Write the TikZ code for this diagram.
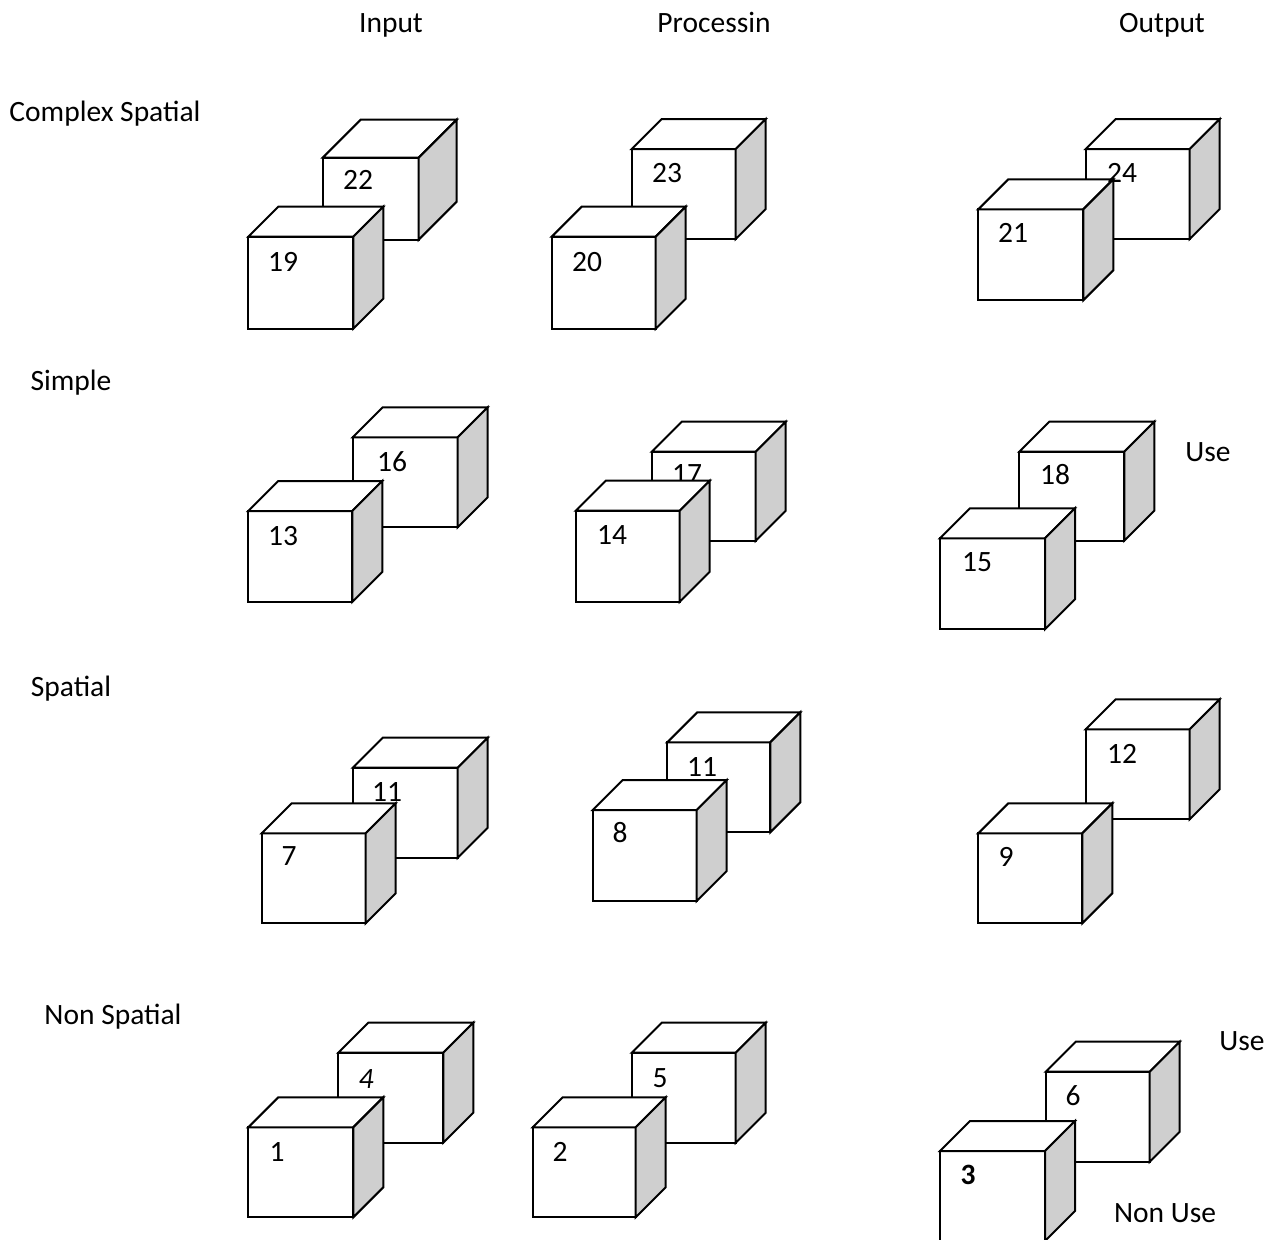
\documentclass[tikz,border=0pt]{standalone}
\usepackage{fontspec}
\setmainfont{Carlito}
\begin{document}
\begin{tikzpicture}[x=1pt,y=-1pt,
  cubefront/.style={draw=black, fill=white, line width=2pt, outer sep=0pt, inner sep=0pt, rectangle, line join=miter},
  cubetop/.style={draw=black, fill=white, line width=2pt, line join=miter},
  cubeside/.style={draw=black, fill=black!19, line width=2pt, line join=miter},
  lbl/.style={font=\fontsize{29.5}{35}\selectfont, inner sep=0pt, anchor=base},
  num/.style={font=\fontsize{29.5}{35}\selectfont, inner sep=0pt, anchor=center}]
\newcommand{\cubeshape}[6]{%
  \node[cubefront, minimum width=#4pt, minimum height=#5pt, anchor=north west] (#1) at (#2,#3) {};
  \draw[cubetop] (#1.north west) -- ++(#6,-#6) -- ++(#4,0) -- (#1.north east) -- cycle;
  \draw[cubeside] (#1.north east) -- ++(#6,-#6) -- ++(0,#5) -- (#1.south east) -- cycle;
}
\clip (0,0) rectangle (1273,1239);
\fill[white] (0,0) rectangle (1273,1239);

% headers
\node[lbl] (hin) at (391,33) {Input};
\node[lbl] (hpr) at (714,33) {Processin};
\node[lbl] (hout) at (1162,33) {Output};
\node[lbl] (rcs) at (105,121) {Complex Spatial};
\node[lbl] (rsi) at (71,390) {Simple};
\node[lbl] (rsp) at (71,696) {Spatial};
\node[lbl] (rns) at (113,1024) {Non Spatial};
\node[lbl] (use1) at (1208,461) {Use};
\node[lbl] (use2) at (1242,1050) {Use};
\node[lbl] (nonuse) at (1165,1222) {Non Use};

% Row 1
\cubeshape{c22}{322.7}{157.7}{96}{82}{38}
\node[num] (n22) at (358,180) {22};
\cubeshape{c19}{248.3}{236.7}{105}{92}{30}
\node[num] (n19) at (283,262) {19};

\cubeshape{c23}{631.7}{149}{104}{90}{30}
\node[num] (n23) at (667,173) {23};
\cubeshape{c20}{551.7}{236.7}{104}{92}{30}
\node[num] (n20) at (587,262) {20};

\cubeshape{c24}{1085.7}{149}{104}{90}{30}
\cubeshape{c21}{978.3}{209.3}{105}{91}{30}
\node[num] (n21) at (1013,233) {21};
\node[num] (n24) at (1122,173) {24};

% Row 2
\cubeshape{c16}{352.7}{437.3}{105}{90}{30}
\node[num] (n16) at (392,462) {16};
\cubeshape{c13}{248.3}{511}{104}{91}{30}
\node[num] (n13) at (283,536) {13};

\cubeshape{c17}{651.7}{451.7}{104}{89}{30}
\node[num] (n17) at (687,474) {17};
\cubeshape{c14}{575.7}{510.7}{104}{91}{30}
\node[num] (n14) at (612,535) {14};

\cubeshape{c18}{1019.3}{451.7}{105}{89}{30}
\node[num] (n18) at (1055,475) {18};
\cubeshape{c15}{940}{538.3}{105}{91}{30}
\node[num] (n15) at (977,562) {15};

% Row 3
\cubeshape{c11a}{352.7}{767.7}{105}{90}{30}
\cubeshape{c7}{261.7}{833.3}{104}{90}{30}
\node[num] (n7) at (289,856) {7};
\node[num] (n11a) at (387,792) {11};

\cubeshape{c11b}{667.3}{742.3}{103}{90}{30}
\node[num] (n11b) at (702,767) {11};
\cubeshape{c8}{592.7}{810}{104}{91}{30}
\node[num] (n8) at (620,833) {8};

\cubeshape{c12}{1085.7}{729.3}{104}{90}{30}
\node[num] (n12) at (1122,754) {12};
\cubeshape{c9}{978.3}{833.3}{104}{90}{30}
\node[num] (n9) at (1006,857) {9};

% Row 4
\cubeshape{c4}{338.3}{1052.7}{105}{90}{30}
\node[num] (n4) at (366,1079) {\textit{4}};
\cubeshape{c1}{248.3}{1127.3}{105}{90}{30}
\node[num] (n1) at (277,1152) {1};

\cubeshape{c5}{631.7}{1052.7}{104}{90}{30}
\node[num] (n5) at (660,1078) {5};
\cubeshape{c2}{532.7}{1127.3}{103}{90}{30}
\node[num] (n2) at (560,1152) {2};

\cubeshape{c6}{1045.7}{1071.7}{104}{90}{30}
\node[num] (n6) at (1073,1096) {6};
\cubeshape{c3}{940}{1151}{105}{90}{30}
\node[num] (n3) at (968,1175) {\textbf{3}};
\end{tikzpicture}
\end{document}
